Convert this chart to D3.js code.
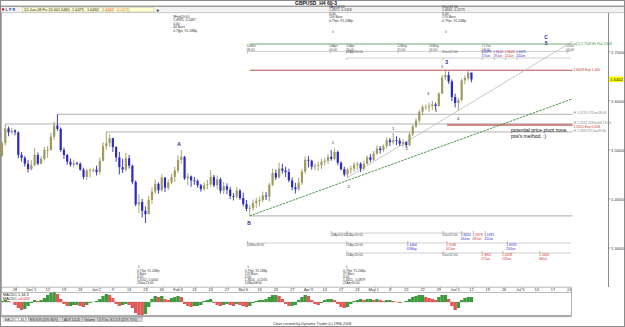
<!DOCTYPE html>
<html>
<head>
<meta charset="utf-8">
<script src="https://cdn.jsdelivr.net/npm/d3@7"></script>
<style>
  html, body { margin: 0; padding: 0; background: #fff; }
  svg { display: block; font-family: "Liberation Sans", Arial, sans-serif; }
</style>
</head>
<body>
<svg id="chart" width="625" height="327"></svg>
<script>
// GBPUSD daily bars, Mon 24 Nov 2008 (bar 0) .. Fri 12 Jun 2009 (bar 144)
var firstOpen = 1.4880;
var highs = [1.5180,1.5530,1.5480,1.5450,1.5420, 1.5380,1.4960,1.4880,1.4800,1.4790,
  1.5040,1.4950,1.4870,1.5060,1.5080, 1.5350,1.5580,1.5730,1.5460,1.5050,
  1.4920,1.4830,1.4790,1.4760,1.4750, 1.4640,1.4620,1.4620,1.4640,1.4680,
  1.4850,1.5160,1.5370,1.5320,1.5250, 1.5080,1.4960,1.4820,1.4940,1.4900,
  1.4700,1.4380,1.4100,1.4000,1.3850, 1.4060,1.4240,1.4400,1.4340,1.4500,
  1.4440,1.4400,1.4520,1.4660,1.4890, 1.5000,1.4880,1.4530,1.4480,1.4450,
  1.4400,1.4310,1.4340,1.4390,1.4590, 1.4490,1.4480,1.4440,1.4350,1.4320,
  1.4250,1.4120,1.4240,1.4200,1.4130, 1.3980,1.3880,1.3990,1.4030,1.4050,
  1.4150,1.4140,1.4330,1.4620,1.4600, 1.4740,1.4720,1.4660,1.4620,1.4440,
  1.4330,1.4430,1.4620,1.4870,1.4880, 1.4800,1.4730,1.4760,1.4820,1.4830,
  1.4920,1.5000,1.5030,1.4990,1.4770, 1.4660,1.4640,1.4680,1.4750,1.4760,
  1.4750,1.4780,1.4890,1.4920,1.4980, 1.5090,1.5080,1.5110,1.5260,1.5250,
  1.5350,1.5280,1.5250,1.5220,1.5180, 1.5360,1.5520,1.5650,1.5820,1.5920,
  1.5930,1.5970,1.6000,1.5970,1.6180, 1.6530,1.6640,1.6600,1.6440,1.6150,
  1.6060,1.6460,1.6520,1.6610,1.6580];
var lows = [1.4860,1.5090,1.5280,1.5320,1.5300, 1.4830,1.4760,1.4660,1.4540,1.4580,
  1.4670,1.4690,1.4710,1.4780,1.4840, 1.4990,1.5210,1.5390,1.4960,1.4820,
  1.4700,1.4660,1.4640,1.4690,1.4580, 1.4400,1.4390,1.4440,1.4540,1.4480,
  1.4500,1.4770,1.5000,1.5060,1.4960, 1.4760,1.4500,1.4530,1.4560,1.4620,
  1.4300,1.3850,1.3720,1.3620,1.3510, 1.3700,1.3900,1.4100,1.4110,1.4150,
  1.4140,1.4180,1.4300,1.4350,1.4530, 1.4720,1.4390,1.4280,1.4250,1.4290,
  1.4230,1.4150,1.4170,1.4200,1.4250, 1.4240,1.4200,1.4110,1.4100,1.4100,
  1.4000,1.3970,1.4010,1.3980,1.3850, 1.3750,1.3660,1.3760,1.3820,1.3850,
  1.3940,1.3980,1.3950,1.4260,1.4390, 1.4420,1.4520,1.4450,1.4340,1.4180,
  1.4110,1.4170,1.4290,1.4520,1.4640, 1.4600,1.4590,1.4580,1.4610,1.4690,
  1.4720,1.4780,1.4790,1.4690,1.4580, 1.4460,1.4440,1.4520,1.4560,1.4600,
  1.4550,1.4580,1.4700,1.4750,1.4780, 1.4900,1.4930,1.4960,1.5030,1.5080,
  1.5110,1.5100,1.5080,1.5070,1.5050, 1.5080,1.5280,1.5450,1.5560,1.5710,
  1.5820,1.5780,1.5810,1.5820,1.5880, 1.6150,1.6430,1.6350,1.6000,1.5870,
  1.5810,1.5990,1.6340,1.6420,1.6380];
var closes = [1.5140,1.5440,1.5360,1.5400,1.5360, 1.4900,1.4840,1.4720,1.4610,1.4690,
  1.4900,1.4720,1.4820,1.5000,1.5000, 1.5270,1.5500,1.5430,1.5000,1.4900,
  1.4760,1.4700,1.4730,1.4720,1.4600, 1.4450,1.4580,1.4600,1.4600,1.4550,
  1.4780,1.5080,1.5140,1.5240,1.5060, 1.4850,1.4650,1.4600,1.4830,1.4680,
  1.4350,1.3890,1.3940,1.3760,1.3690, 1.3980,1.4150,1.4310,1.4180,1.4440,
  1.4230,1.4340,1.4450,1.4580,1.4800, 1.4860,1.4420,1.4460,1.4380,1.4370,
  1.4280,1.4200,1.4280,1.4300,1.4450, 1.4280,1.4400,1.4170,1.4260,1.4190,
  1.4060,1.4050,1.4170,1.4020,1.3900, 1.3800,1.3820,1.3920,1.3960,1.3980,
  1.4070,1.4050,1.4290,1.4530,1.4440, 1.4620,1.4580,1.4550,1.4380,1.4240,
  1.4200,1.4330,1.4560,1.4800,1.4780, 1.4660,1.4680,1.4690,1.4760,1.4780,
  1.4860,1.4820,1.4960,1.4740,1.4610, 1.4500,1.4600,1.4620,1.4700,1.4720,
  1.4620,1.4720,1.4850,1.4800,1.4930, 1.5030,1.5000,1.5080,1.5200,1.5160,
  1.5200,1.5190,1.5130,1.5160,1.5100, 1.5320,1.5480,1.5600,1.5780,1.5880,
  1.5880,1.5900,1.5930,1.5900,1.6150, 1.6480,1.6530,1.6400,1.6080,1.5960,
  1.6020,1.6420,1.6470,1.6580,1.6442];
// MACDC 1,34,3 histogram, one value per bar
var macdHist = [0.001,0.002,0.001,0.000,-0.003, -0.006,-0.008,-0.007,-0.004,-0.001,
  0.002,0.001,0.002,0.004,0.007, 0.009,0.010,0.008,0.003,-0.002,
  -0.004,-0.004,-0.003,-0.003,-0.004, -0.005,-0.003,-0.001,0.000,0.001,
  0.003,0.006,0.008,0.007,0.004, -0.002,-0.004,-0.003,-0.002,-0.003,
  -0.006,-0.011,-0.013,-0.014,-0.012, -0.005,0.003,0.006,0.005,0.006,
  0.003,0.002,0.004,0.005,0.006, 0.005,-0.002,-0.004,-0.005,-0.004,
  -0.004,-0.003,0.001,0.002,0.003, -0.001,-0.003,-0.004,-0.003,-0.002,
  -0.003,-0.004,-0.002,-0.003,-0.004, -0.005,-0.004,-0.001,0.001,0.002,
  0.002,0.003,0.005,0.007,0.007, 0.006,0.003,-0.002,-0.004,-0.004,
  -0.003,0.002,0.005,0.007,0.006, 0.002,-0.002,-0.003,-0.001,0.002,
  0.003,0.003,0.002,-0.002,-0.005, -0.006,-0.005,-0.002,0.001,0.002,
  0.003,0.002,0.003,0.003,0.002, 0.003,0.002,0.001,0.002,0.002,
  0.001,0.000,-0.001,0.000,0.001, 0.003,0.005,0.006,0.007,0.007,
  0.005,0.004,0.003,0.002,0.005, 0.007,0.007,0.003,-0.004,-0.008,
  -0.006,0.002,0.004,0.005,0.005];
var weekLabels = ["28","Dec 5","12","19","26","Jan 2","9","16","23","30","Feb 6","13","20","27",
  "Mar 6","13","20","27","Apr 3","10","17","24","May 1","8","15","22","29","Jun 5","12","19","26",
  "Jul 3","10","17","24"];
var priceTicks = [1.7, 1.6, 1.5, 1.4, 1.3];
var lastPrice = 1.6442;

// horizontal levels: [start bar, price, kind, right-hand label]
var levels = [
  [1, 1.5531, "high", "H 1.5531 25Nov08 13:00"],
  [17, 1.5729, "high", "H 1.5729 17Dec08:00"],
  [32, 1.5369, "high", "H 1.5369 07Jan09:00"],
  [76, 1.3655, "low", ""],
  [76, 1.6628, "target", "1.6628 Exp 1.000"],
  [76, 1.7163, "ext", "a(C) 1.7549 Ex Rat 2.618"],
  [136.5, 1.5512, "zone", "1.5515 Exp 0.618"]
];
var trendGreen = [[76, 1.3655], [175, 1.6045]];
var trendGray = [[106, 1.4440], [175, 1.7215]];
// wave labels: [text, bar, price, kind]
var waveLabels = [
  ["A", 54.3, 1.5122, "major"], ["B", 75.8, 1.3510, "major"],
  ["C", 166.9, 1.7306, "major"], ["5", 166.9, 1.7184, "major"],
  ["1", 101.5, 1.5143, "minor"], ["2", 106.4, 1.4245, "minor"],
  ["1", 120, 1.5429, "minor"], ["2", 124.2, 1.5020, "minor"],
  ["3", 130.7, 1.6143, "minor"], ["4", 133.1, 1.5796, "minor"],
  ["5", 135, 1.6694, "minor"], ["3", 136.4, 1.6796, "major"],
  ["4", 139.9, 1.5633, "minor"]
];
var topBoxes = [
  [52.5, 54.3, ["9Feb20:00", "1.4985, 0.1487", "0.00", "44 Bars", "0.79pt, 91.24Bp"]],
  [100.3, 101.5, ["3Apr04:00", "1.4872, 0.1418", "0.00", "156 Bars", "0.79pt, 91.24Bp"]],
  [135, 136.2, ["3Jun12:00", "1.6661, 0.2273", "0.00", "170 Bars", "0.79pt, 91.24Bp"]]
];
var bottomBoxes = [
  [41.4, 42, ["0.79pt, 91.24Bp", "5 Bars", "0.00", "1.3502, 0.0000", "23Jan21:00"]],
  [74.5, 75.5, ["0.79pt, 91.24Bp", "129 Bars", "0.00", "1.3654, -0.1335", "10Mar08:00"]],
  [104.6, 105.8, ["0.79pt, 91.24Bp", "27 Bars", "0.00", "1.4451, -0.0879", "21Apr20:00"]]
];
// time rulers: [row, start bar, end bar, ticks [bar, line1, line2, kind]]
var rulers = [
  ["t1", 75.3, 174.5, [[75.3, "10Mar", "08:00", "d"], [100.6, "14Apr", "04:00", "d"], [105.8, "21Apr", "20:00", "d"],
    [121.5, "12May", "20:00", "d"], [131.3, "26May", "16:00", "d"], [147.5, "17Jun", "08:00", "d"], [173.3, "23Jul", "04:00", "d"]]],
  ["t2", 105.8, 174.5, [[105.8, "21Apr20:00", "", "d"], [135.3, "3Jun12:00", "", "d"], [147.3, "1.6599", "17Jun", "b"],
    [151, "1.6620", "19Jun", "p"], [154.5, "1.6626", "22Jun", "r"], [158, "1.6675", "24Jun", "b"]]],
  ["b1", 101, 143.5, [[101, "14Apr04:00", "", "d"], [105.8, "21Apr20:00", "", "d"], [135.3, "3Jun12:00", "", "d"],
    [141, "1.6024", "05Jun", "b"], [144.6, "1.5978", "09Jun", "r"], [148.2, "1.5931", "15Jun", "b"]]],
  ["b2", 75.3, 174.5, [[75.3, "10Mar08:00", "", "d"], [105.8, "21Apr20:00", "", "d"], [124.5, "1.4404", "05May", "b"],
    [136.5, "1.5566", "01Jun", "r"], [155, "1.6076", "26Jun", "b"]]],
  ["b3", 105.8, 174.5, [[105.8, "21Apr20:00", "", "d"], [135.3, "3Jun12:00", "", "d"], [147.3, "1.3902", "17Jun", "r"],
    [153.7, "1.4428", "23Jun", "r"], [165, "1.5000", "08Jul", "r"]]]
];
var tabNames = ["MACDC 1,34,3", "RSI 8,8 (20% 80%)", "ADX 14,20", "Volume", "DTOsc 8,5,3,3 (25% 75%)"];

// ---------------------------------------------------------------
var svg = d3.select("#chart");
var W = 625, H = 327;
var upCol = "#9e9b5e", downCol = "#2b2bc4";
var inkCol = { d: "#555", b: "#2a2ad0", p: "#8a2aa0", r: "#d03030" };
var rulerY = { t1: 51.5, t2: 58, b1: 233, b2: 243, b3: 253 };

var x = d3.scaleLinear().domain([0, 175]).range([2, 572.5]);
var y = d3.scaleLinear().domain([1.3, 1.7]).range([248, 52]);
var ym = d3.scaleLinear().domain([-0.010, 0.010]).range([312, 292]);

svg.append("rect").attr("width", W).attr("height", H).attr("fill", "#fff");

// title + toolbar
svg.append("text").attr("x", 295).attr("y", 5).attr("font-size", 5).attr("font-weight", "bold")
  .attr("fill", "#111").text("GBPUSD_H4 60-3");
svg.append("rect").attr("x", 0).attr("y", 5.5).attr("width", W).attr("height", 1.6).attr("fill", "#a0a0a0");
svg.append("rect").attr("x", 0).attr("y", 7.1).attr("width", W).attr("height", 5.2).attr("fill", "#f2f2f2");
svg.append("line").attr("x1", 0).attr("x2", W).attr("y1", 12.6).attr("y2", 12.6).attr("stroke", "#b0b0b0").attr("stroke-width", 0.7);
svg.append("rect").attr("x", 2).attr("y", 8.3).attr("width", 2.2).attr("height", 2.2).attr("fill", "#d02020");
[["L", 5.5], ["P", 9], ["R", 12.5]].forEach(function(d) {
  svg.append("text").attr("x", d[1]).attr("y", 10.8).attr("font-size", 3.6).attr("font-weight", "bold")
    .attr("fill", "#3040a0").text(d[0]);
});
svg.append("rect").attr("x", 22.5).attr("y", 7.6).attr("width", 131).attr("height", 4.3)
  .attr("fill", "#ffffd0").attr("stroke", "#b8b8a0").attr("stroke-width", 0.4);
var tb = svg.append("text").attr("x", 24).attr("y", 11).attr("font-size", 3.9).attr("fill", "#222");
tb.append("tspan").text("12-Jun-09 Fri 20:00");
tb.append("tspan").attr("x", 58).text("1.6465");
tb.append("tspan").attr("x", 72).text("1.6475");
tb.append("tspan").attr("x", 87).text("1.6432");
tb.append("tspan").attr("x", 102).attr("fill", "#e03030").text("1.6442");
tb.append("tspan").attr("x", 116).attr("fill", "#e07020").text("-0.0(21)");
svg.append("text").attr("x", 156).attr("y", 11.6).attr("font-size", 6).attr("font-weight", "bold").attr("fill", "#111").text("+");

// frame
svg.append("rect").attr("x", 0.5).attr("y", 0.5).attr("width", W - 1).attr("height", H - 1)
  .attr("fill", "none").attr("stroke", "#8a8a8a");
svg.append("line").attr("x1", 1.2).attr("x2", 1.2).attr("y1", 12).attr("y2", 316).attr("stroke", "#999").attr("stroke-width", 1.2);

// price axis
svg.append("line").attr("x1", 608.5).attr("x2", 608.5).attr("y1", 13).attr("y2", 287).attr("stroke", "#8a8a8a");
priceTicks.forEach(function(p) {
  svg.append("line").attr("x1", 608.5).attr("x2", 610.5).attr("y1", y(p)).attr("y2", y(p)).attr("stroke", "#666").attr("stroke-width", 0.6);
  svg.append("text").attr("x", 611).attr("y", y(p)).attr("dy", "0.35em").attr("font-size", 4.3).attr("fill", "#333").text(p.toFixed(4));
});
svg.append("rect").attr("x", 609).attr("y", y(lastPrice) - 2.8).attr("width", 14).attr("height", 5.6).attr("fill", "#ffff00");
svg.append("text").attr("x", 610).attr("y", y(lastPrice)).attr("dy", "0.35em").attr("font-size", 4.3).attr("fill", "#222").text(lastPrice.toFixed(4));

// main plot layer
var plot = svg.append("g");

// rulers
rulers.forEach(function(r) {
  var ry = rulerY[r[0]], top = r[0].charAt(0) === "t";
  plot.append("line").attr("x1", x(r[1])).attr("x2", x(r[2])).attr("y1", ry).attr("y2", ry)
    .attr("stroke", "#c4c4c4").attr("stroke-width", 0.8);
  r[3].forEach(function(t) {
    var tx = x(t[0]);
    plot.append("line").attr("x1", tx).attr("x2", tx).attr("y1", ry).attr("y2", top ? ry + 2 : ry - 2)
      .attr("stroke", "#777").attr("stroke-width", 0.5);
    var l1 = top ? ry - 4.2 : ry + 3.3;
    if (r[0] === "t2") l1 = ry - 4.6;
    plot.append("text").attr("x", tx - 1).attr("y", l1).attr("font-size", 3.3).attr("fill", inkCol[t[3]]).text(t[1]);
    if (t[2]) plot.append("text").attr("x", tx - 1).attr("y", l1 + 3.2).attr("font-size", 3.3).attr("fill", inkCol[t[3]]).text(t[2]);
  });
});

// horizontal levels
var levelStyle = {
  high: { c: "#a8a8a8", w: 0.9, lc: "#888", dy: -1.6 },
  low: { c: "#a0a0a0", w: 0.9, lc: "#888", dy: 0 },
  target: { c: "#b05050", w: 1, lc: "#c03030", dy: 0 },
  ext: { c: "#74a874", w: 1, lc: "#3a8a3a", dy: 0 },
  zone: { c: "#cf8a8a", w: 2.4, lc: "#c03030", dy: 1.8 }
};
levels.forEach(function(l) {
  var s = levelStyle[l[2]];
  plot.append("line").attr("x1", x(l[0])).attr("x2", x(175)).attr("y1", y(l[1])).attr("y2", y(l[1]))
    .attr("stroke", s.c).attr("stroke-width", s.w);
  if (l[3]) plot.append("text").attr("x", 573.5).attr("y", y(l[1]) + s.dy).attr("dy", "0.35em")
    .attr("font-size", 3.4).attr("fill", s.lc).text(l[3]);
});

// trend lines
var tl = d3.line().x(function(d) { return x(d[0]); }).y(function(d) { return y(d[1]); });
plot.append("path").attr("d", tl(trendGray)).attr("fill", "none").attr("stroke", "#c2c2c2").attr("stroke-width", 0.9);
plot.append("path").attr("d", tl(trendGreen)).attr("fill", "none").attr("stroke", "#3a8a3a")
  .attr("stroke-width", 0.9).attr("stroke-dasharray", "2.5,1");

// bars
var bars = closes.map(function(c, i) {
  return { i: i, o: i ? closes[i - 1] : firstOpen, h: highs[i], l: lows[i], c: c };
});
plot.selectAll("line.wick").data(bars).enter().append("line").attr("class", "wick")
  .attr("x1", function(d) { return x(d.i); }).attr("x2", function(d) { return x(d.i); })
  .attr("y1", function(d) { return y(d.h); }).attr("y2", function(d) { return y(d.l); })
  .attr("stroke", function(d) { return d.c >= d.o ? upCol : downCol; }).attr("stroke-width", 0.9);
plot.selectAll("rect.body").data(bars).enter().append("rect").attr("class", "body")
  .attr("x", function(d) { return x(d.i) - 1.1; }).attr("width", 2.2)
  .attr("y", function(d) { return y(Math.max(d.o, d.c)); })
  .attr("height", function(d) { return Math.max(0.8, Math.abs(y(d.o) - y(d.c))); })
  .attr("fill", function(d) { return d.c >= d.o ? upCol : downCol; });

// wave labels
plot.selectAll("text.wave").data(waveLabels).enter().append("text").attr("class", "wave")
  .attr("x", function(d) { return x(d[1]); }).attr("y", function(d) { return y(d[2]); })
  .attr("dy", "0.35em").attr("text-anchor", "middle")
  .attr("font-size", function(d) { return d[3] === "major" ? 5 : 4; })
  .attr("font-weight", function(d) { return d[3] === "major" ? "bold" : "normal"; })
  .attr("fill", function(d) { return d[3] === "major" ? "#2a2a9a" : "#222"; })
  .text(function(d) { return d[0]; });

// info boxes
topBoxes.forEach(function(b, k) {
  var top = k === 0 ? 15 : 5;
  b[2].forEach(function(s, j) {
    plot.append("text").attr("x", x(b[0])).attr("y", top + j * 3.5 + 2.5).attr("font-size", 3.4).attr("fill", "#333").text(s);
  });
  plot.append("line").attr("x1", x(b[1])).attr("x2", x(b[1])).attr("y1", 30.5).attr("y2", 33)
    .attr("stroke", "#555").attr("stroke-width", 0.6);
});
bottomBoxes.forEach(function(b) {
  plot.append("line").attr("x1", x(b[1])).attr("x2", x(b[1])).attr("y1", 265.5).attr("y2", 268)
    .attr("stroke", "#555").attr("stroke-width", 0.6);
  b[2].forEach(function(s, j) {
    plot.append("text").attr("x", x(b[0])).attr("y", 272 + j * 3).attr("font-size", 3.2).attr("fill", "#333").text(s);
  });
});

// note
plot.append("text").attr("x", 511).attr("y", 132).attr("font-size", 5).attr("fill", "#111").text("potential price pivot zone,");
plot.append("text").attr("x", 511).attr("y", 138).attr("font-size", 5).attr("fill", "#111").text("ptw's method.  :)");

// date axis strip
svg.append("line").attr("x1", 1).attr("x2", 571.5).attr("y1", 287.2).attr("y2", 287.2).attr("stroke", "#9a9a9a").attr("stroke-width", 0.7);
weekLabels.forEach(function(s, k) {
  var bi = 4 + k * 5;
  svg.append("line").attr("x1", x(bi - 4.5)).attr("x2", x(bi - 4.5)).attr("y1", 287.2).attr("y2", 289)
    .attr("stroke", "#888").attr("stroke-width", 0.5);
  svg.append("text").attr("x", x(bi)).attr("y", 291).attr("text-anchor", "middle")
    .attr("font-size", 3.8).attr("fill", "#333").text(s);
});
svg.append("line").attr("x1", 571.5).attr("x2", 571.5).attr("y1", 287.2).attr("y2", 316).attr("stroke", "#9a9a9a").attr("stroke-width", 0.7);

// MACD panel
svg.append("rect").attr("x", 1.2).attr("y", 292.3).attr("width", 570.3).attr("height", 23).attr("fill", "#fff")
  .attr("stroke", "#9a9a9a").attr("stroke-width", 0.7);
svg.append("clipPath").attr("id", "mclip").append("rect").attr("x", 1.2).attr("y", 292.3).attr("width", 570.3).attr("height", 23);
var mg = svg.append("g").attr("clip-path", "url(#mclip)");
mg.append("line").attr("x1", 1).attr("x2", x(144) + 1.5).attr("y1", ym(0)).attr("y2", ym(0)).attr("stroke", "#aaa").attr("stroke-width", 0.5);
mg.selectAll("rect.h").data(macdHist).enter().append("rect").attr("class", "h")
  .attr("x", function(d, i) { return x(i) - 1.65; }).attr("width", 3.3)
  .attr("y", function(d) { return Math.min(ym(d), ym(0)); })
  .attr("height", function(d) { return Math.abs(ym(d) - ym(0)); })
  .attr("fill", function(d, i) { return (i === 0 || d >= macdHist[i - 1]) ? "#3c9a3c" : "#e05858"; });
svg.append("text").attr("x", 3).attr("y", 296.3).attr("font-size", 3.8).attr("fill", "#222").text("MACDC 1,34,3");
var mt = svg.append("text").attr("x", 3).attr("y", 300.3).attr("font-size", 3.8).attr("fill", "#222");
mt.append("tspan").text("MACDC ");
mt.append("tspan").attr("fill", "#e02020").text("=0.003");

// bottom bar + tabs
svg.append("rect").attr("x", 1).attr("y", 315.3).attr("width", 570.5).attr("height", 1.8).attr("fill", "#a8a8a8");
var tx = 3;
tabNames.forEach(function(s, k) {
  var w = s.length * 1.78 + 4;
  svg.append("rect").attr("x", tx).attr("y", 317.2).attr("width", w).attr("height", 4.4)
    .attr("fill", k === 0 ? "#fff" : "#d8d8d8").attr("stroke", "#888").attr("stroke-width", 0.4);
  svg.append("text").attr("x", tx + 1.5).attr("y", 320.6).attr("font-size", 3.3).attr("fill", "#222").text(s);
  tx += w;
});
svg.append("text").attr("x", 273).attr("y", 325.2).attr("font-size", 3.7).attr("fill", "#333")
  .text("Chart created by Dynamic Trader  (c) 1996-2008");
</script>
</body>
</html>
